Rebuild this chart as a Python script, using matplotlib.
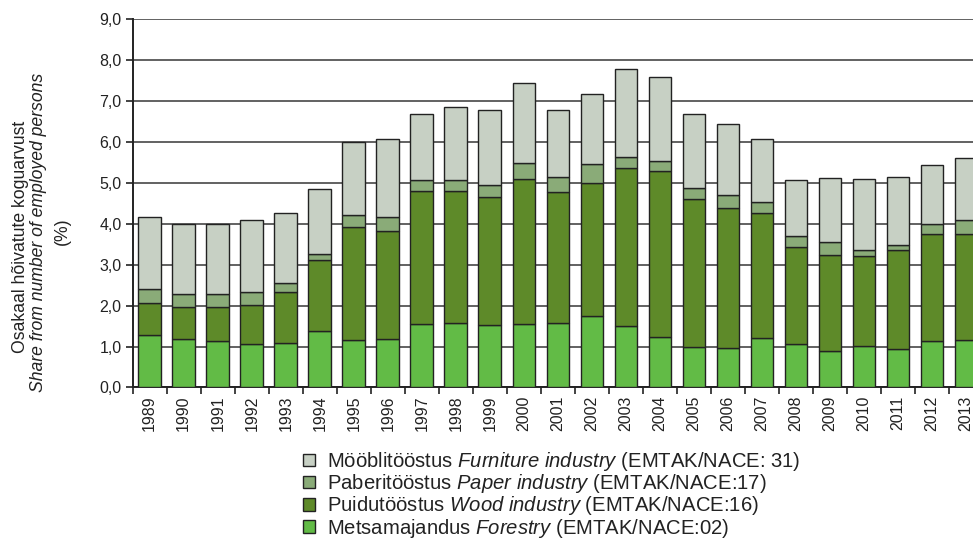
import numpy as np
import matplotlib
matplotlib.use('Agg')
import matplotlib.pyplot as plt
from matplotlib.ticker import FixedLocator, FuncFormatter

plt.rcParams['font.family'] = ['Liberation Sans', 'DejaVu Sans']
plt.rcParams['mathtext.fontset'] = 'custom'
plt.rcParams['mathtext.rm'] = 'Liberation Sans'
plt.rcParams['mathtext.it'] = 'Liberation Sans:italic'

years = [str(y) for y in range(1989, 2014)]

forestry = [1.28, 1.18, 1.14, 1.06, 1.08, 1.37, 1.16, 1.19, 1.54, 1.58, 1.53, 1.55, 1.58,
            1.75, 1.49, 1.23, 0.99, 0.97, 1.20, 1.06, 0.89, 1.01, 0.94, 1.14, 1.15]
wood = [0.79, 0.78, 0.82, 0.95, 1.25, 1.74, 2.75, 2.64, 3.25, 3.21, 3.13, 3.55, 3.20,
        3.24, 3.86, 4.05, 3.61, 3.42, 3.07, 2.36, 2.35, 2.21, 2.41, 2.62, 2.61]
paper = [0.33, 0.33, 0.32, 0.32, 0.23, 0.16, 0.31, 0.33, 0.28, 0.28, 0.28, 0.39, 0.37,
         0.48, 0.29, 0.24, 0.26, 0.32, 0.25, 0.28, 0.31, 0.14, 0.13, 0.24, 0.33]
furniture = [1.76, 1.71, 1.72, 1.75, 1.69, 1.58, 1.78, 1.92, 1.61, 1.77, 1.84, 1.94, 1.63,
             1.69, 2.14, 2.07, 1.82, 1.73, 1.56, 1.36, 1.57, 1.74, 1.66, 1.43, 1.52]

labels = [r'Metsamajandus $\it{Forestry}$ (EMTAK/NACE:02)',
          r'Puidutööstus $\it{Wood\ industry}$ (EMTAK/NACE:16)',
          r'Paberitööstus $\it{Paper\ industry}$ (EMTAK/NACE:17)',
          r'Mööblitööstus $\it{Furniture\ industry}$ (EMTAK/NACE: 31)']
colors = ['#62bb46', '#5e8a29', '#8aab78', '#c7d0c4']

fig = plt.figure(figsize=(9.73, 5.39), dpi=100)
ax = fig.add_axes([0.1364, 0.2811, 0.874, 0.6837])

x = np.arange(len(years))
bottom = np.zeros(len(years))
handles = []
for vals, col, lab in zip([forestry, wood, paper, furniture], colors, labels):
    b = ax.bar(x, vals, width=0.67, bottom=bottom, color=col, edgecolor='#222222',
               linewidth=1.0, label=lab, zorder=3)
    handles.append(b)
    bottom += np.array(vals)

ax.set_xlim(-0.5, len(years) - 0.5)
ax.set_ylim(0, 9)
ax.yaxis.set_major_locator(FixedLocator(np.arange(0, 10, 1)))
ax.yaxis.set_major_formatter(FuncFormatter(lambda v, p: f'{v:.1f}'.replace('.', ',')))
ax.grid(axis='y', color='#555555', linewidth=1.3, zorder=0)
ax.set_axisbelow(True)

ax.set_xticks(x)
ax.set_xticklabels(years, rotation=90, fontsize=11.5, color='#222222')
ax.tick_params(axis='x', which='major', length=0, pad=6)
ax.set_xticks(np.arange(-0.5, len(years), 1), minor=True)
ax.tick_params(axis='x', which='minor', length=5, width=1.2, direction='out', color='#222222')
ax.tick_params(axis='y', length=5, width=1.2, direction='out', labelsize=11.5,
               color='#222222', labelcolor='#222222', pad=3)

for s in ['top', 'right']:
    ax.spines[s].set_visible(False)
for s in ['left', 'bottom']:
    ax.spines[s].set_linewidth(1.4)
    ax.spines[s].set_color('#222222')

# y label, three lines
fig.text(0.0206, 0.56, 'Osakaal hõivatute koguarvust', rotation=90, ha='center',
         va='center', fontsize=12.7, color='#222222')
fig.text(0.0395, 0.568, 'Share from number of employed persons', rotation=90, ha='center',
         va='center', fontsize=12.7, style='italic', color='#222222')
fig.text(0.0637, 0.572, '(%)', rotation=90, ha='center', va='center', fontsize=12.7,
         color='#222222')

leg = fig.legend(handles[::-1], labels[::-1], loc='upper left',
                 bbox_to_anchor=(303 / 973, 1 - 450 / 539), frameon=False, fontsize=14.6,
                 handlelength=0.58, handleheight=0.58, handletextpad=0.6,
                 labelspacing=-0.04, borderpad=0, borderaxespad=0)
for t in leg.get_texts():
    t.set_color('#222222')

fig.savefig('out.png', dpi=100)
